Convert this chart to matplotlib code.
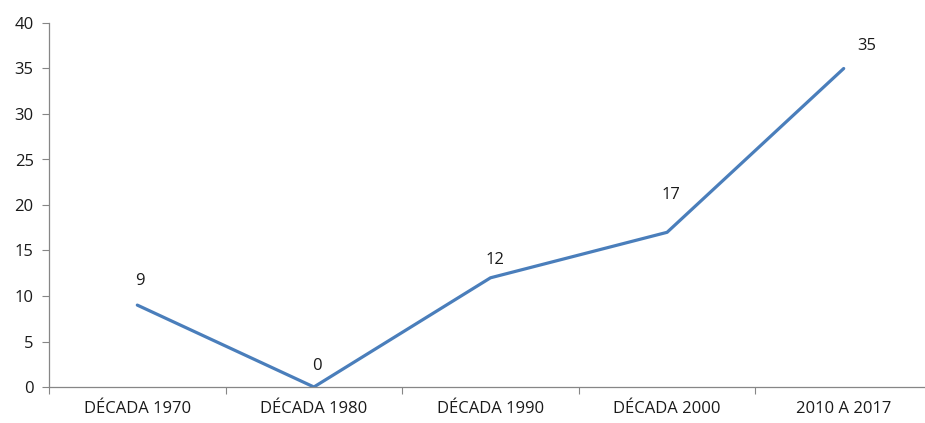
import matplotlib.pyplot as plt
import numpy as np

categorias = ["DÉCADA 1970", "DÉCADA 1980", "DÉCADA 1990", "DÉCADA 2000", "2010 A 2017"]
valores = [9, 0, 12, 17, 35]

# label offsets in pixels (dx, dy) relative to each point
offsets = [(3, 24), (3, 21), (4, 18), (4, 37), (23, 22)]

plt.rcParams['font.family'] = ['Open Sans', 'DejaVu Sans']

fig = plt.figure(figsize=(9.25, 4.23), dpi=100)
ax = fig.add_axes([49 / 925, 36 / 423, 883 / 925, 364 / 423])

x = np.arange(len(categorias))
ax.plot(x, valores, color='#4A7EBB', linewidth=2.3, solid_capstyle='round')

for i, v in enumerate(valores):
    dx, dy = offsets[i]
    ax.annotate(str(v), (x[i], v), xytext=(dx * 0.72, dy * 0.72),
                textcoords='offset points', ha='center', va='center',
                fontsize=12, color='#1a1a1a')

ax.set_xlim(-0.5, len(categorias) - 0.5)
ax.set_ylim(0, 40)
ax.set_yticks(np.arange(0, 41, 5))

# category labels centred, tick marks between categories
ax.set_xticks(np.arange(-0.5, len(categorias), 1))
ax.set_xticklabels([])
ax.set_xticks(x, minor=True)
ax.set_xticklabels(categorias, minor=True)
ax.tick_params(axis='x', which='minor', length=0, pad=10, labelsize=12, labelcolor='#1a1a1a')
ax.tick_params(axis='x', which='major', length=5, color='#868686')
ax.tick_params(axis='y', length=5, color='#868686', labelsize=12, labelcolor='#1a1a1a', pad=6)

for s in ['top', 'right']:
    ax.spines[s].set_visible(False)
for s in ['left', 'bottom']:
    ax.spines[s].set_color('#868686')
    ax.spines[s].set_linewidth(0.9)

plt.savefig('out.png', dpi=100)
